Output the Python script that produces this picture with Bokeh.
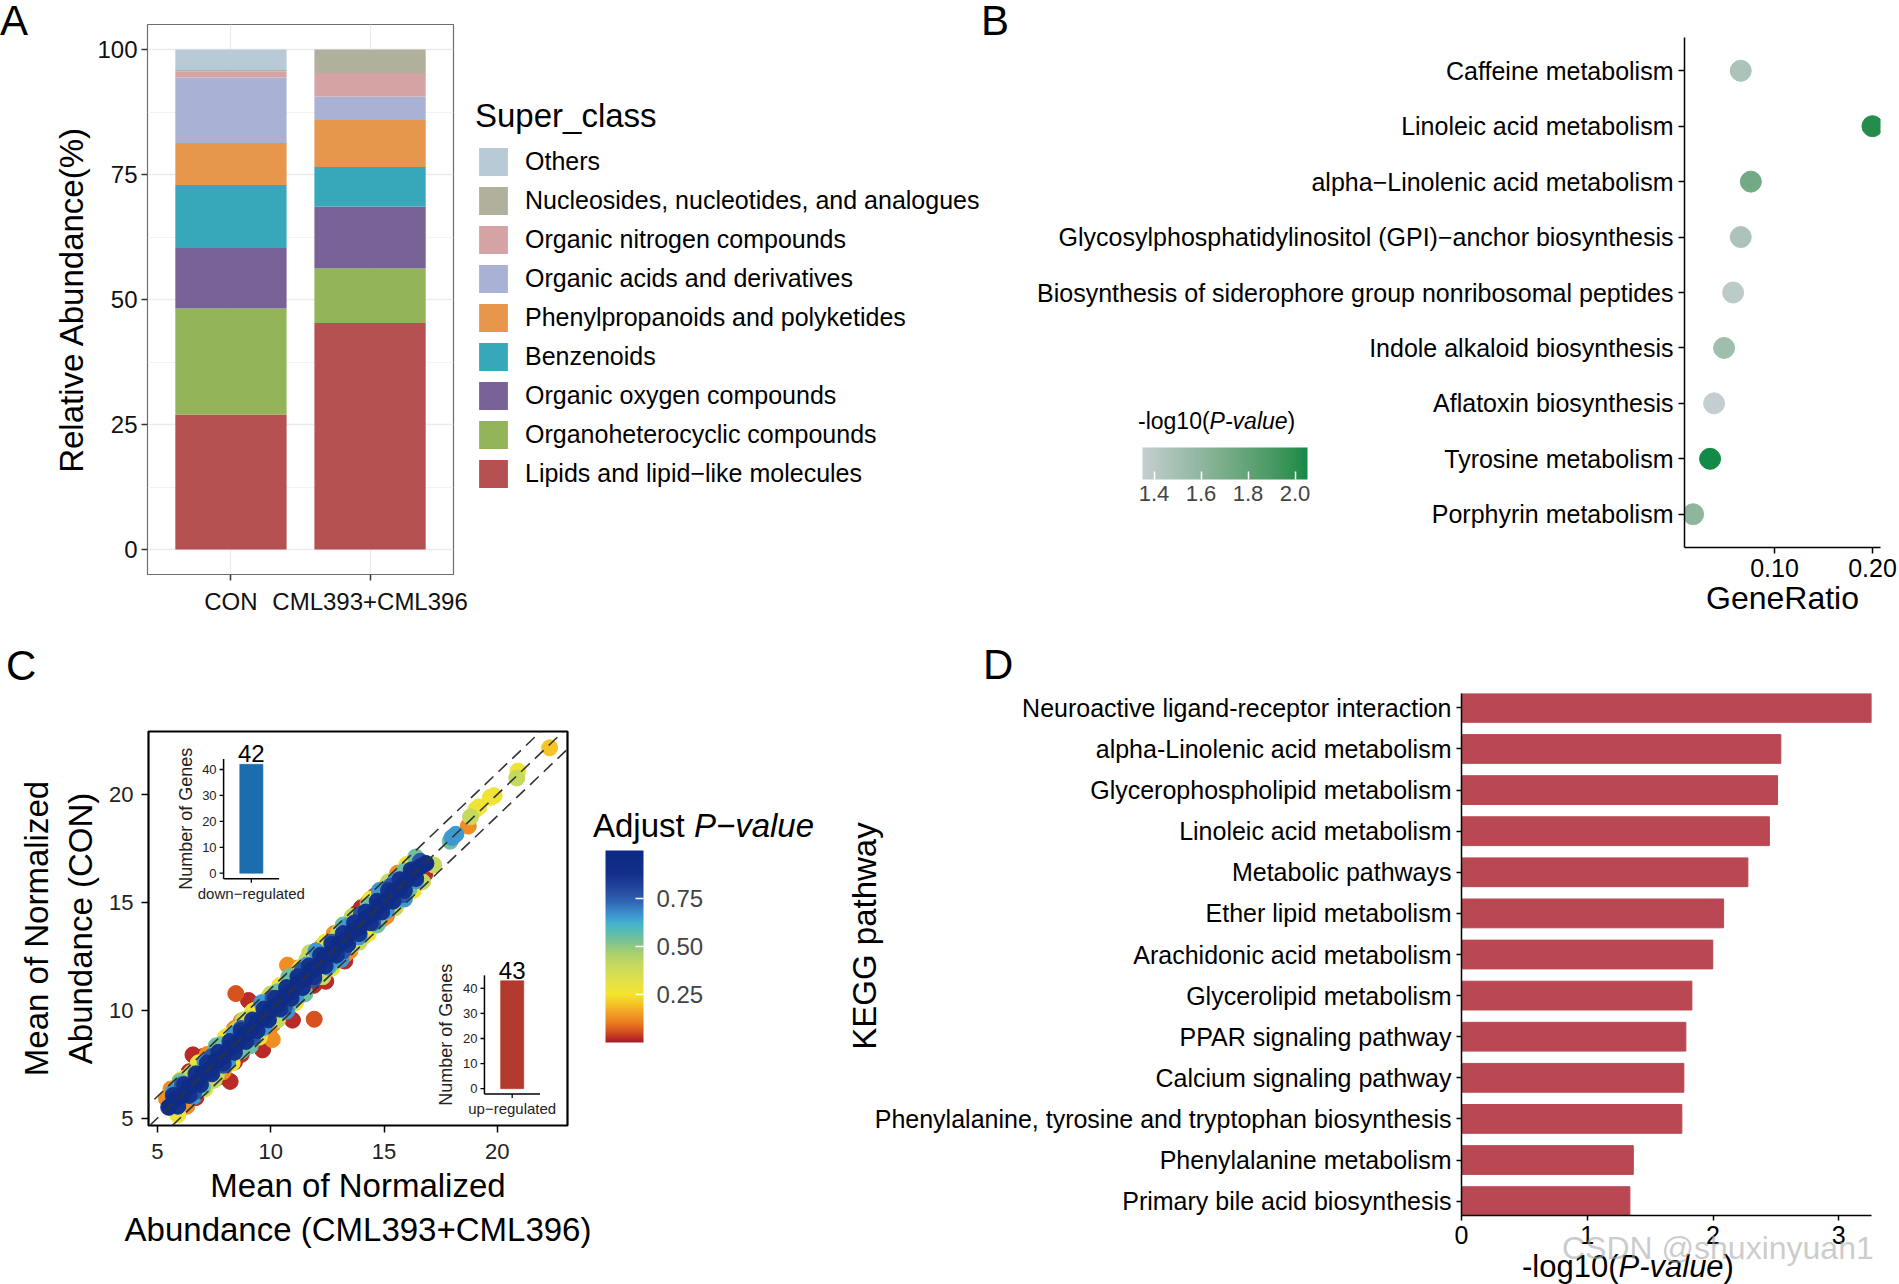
import numpy as np
from bokeh.plotting import figure
from bokeh.models import (ColumnDataSource, FactorRange, Range1d, Legend, LegendItem,
                          ColorBar, LinearColorMapper, FixedTicker, Slope, Div,
                          NumeralTickFormatter)
from bokeh.embed import file_html
from bokeh.resources import INLINE
from bokeh.core.properties import value

FONT = "Liberation Sans"

# ---------------- Panel A data ----------------
a_groups = ["CON", "CML393+CML396"]
a_classes = ["Lipids and lipid\u2212like molecules", "Organoheterocyclic compounds",
             "Organic oxygen compounds", "Benzenoids", "Phenylpropanoids and polyketides",
             "Organic acids and derivatives", "Organic nitrogen compounds",
             "Nucleosides, nucleotides, and analogues", "Others"]
a_con = [27.0, 21.2, 12.1, 12.6, 8.4, 13.1, 1.2, 0.3, 4.1]
a_cml = [45.3, 10.9, 12.4, 7.9, 9.4, 4.7, 4.7, 4.7, 0.0]
a_colors = ["#B65152", "#93B458", "#786296", "#37A8BA", "#E6974C",
            "#A9B2D4", "#D6A3A5", "#B0B09C", "#B8CAD5"]
a_yticks = [0, 25, 50, 75, 100]
a_yminor = [12.5, 37.5, 62.5, 87.5]

# ---------------- Panel B data ----------------
b_pathways = ["Caffeine metabolism", "Linoleic acid metabolism",
              "alpha\u2212Linolenic acid metabolism",
              "Glycosylphosphatidylinositol (GPI)\u2212anchor biosynthesis",
              "Biosynthesis of siderophore group nonribosomal peptides",
              "Indole alkaloid biosynthesis", "Aflatoxin biosynthesis",
              "Tyrosine metabolism", "Porphyrin metabolism"]
b_gene_ratio = [0.0656, 0.2000, 0.0759, 0.0656, 0.0578, 0.0486, 0.0384, 0.0343, 0.0170]
b_neglog10p = [1.47, 2.02, 1.73, 1.47, 1.39, 1.52, 1.351, 2.053, 1.61]
b_xticks = [0.10, 0.20]
b_cticks = [1.4, 1.6, 1.8, 2.0]

# ---------------- Panel C data ----------------
c_xticks = [5, 10, 15, 20]
c_guides = [-1, 0, 1]
c_cticks = [0.25, 0.50, 0.75]
inset_counts = [42, 43]
inset_names = ["down\u2212regulated", "up\u2212regulated"]
inset_colors = ["#1C6DAD", "#B43A2D"]
inset_yticks = [0, 10, 20, 30, 40]

c_red_x = [9.02, 10.96, 6.57, 8.21, 9.64, 12.43, 13.27, 6.4, 7.2, 7.7, 8.4, 13.8, 14.6, 16.3, 7.0, 9.9, 11.0, 15.1, 16.8,
           6.4, 14.0, 6.7, 8.7, 11.9]
c_red_y = [10.45, 9.54, 7.93, 6.7, 8.16, 11.34, 12.28, 7.0, 7.9, 6.9, 7.6, 14.5, 15.3, 16.8, 7.85, 9.0, 11.7, 14.4, 16.3,
           7.15, 14.75, 5.95, 7.95, 11.15]
c_vermil_x = [8.46, 11.92]
c_vermil_y = [10.77, 9.58]
c_orange_x = [6.9, 7.9, 8.7, 10.1, 10.74, 10.07, 12.2, 13.3, 14.3, 14.9, 18.72, 15.6, 5.4, 11.5,
              5.6, 7.2, 8.4, 11.2, 12.8, 15.6, 6.3, 7.9, 9.9, 13.5, 15.1]
c_orange_y = [7.6, 7.2, 9.5, 9.35, 12.09, 8.64, 12.9, 12.6, 15.0, 14.2, 18.53, 16.3, 5.9, 10.8,
              6.35, 7.95, 9.15, 11.95, 13.55, 16.35, 5.55, 7.15, 9.15, 12.75, 14.35]
c_amber_x = [22.31, 12.3]
c_amber_y = [22.16, 13.0]
c_yellow_x = [6.2, 7.3, 8.1, 9.5, 9.9, 10.8, 11.3, 12.8, 13.6, 14.1, 15.4, 16.1, 19.86, 19.69, 19.19, 19.05, 20.91, 9.3,
              6.0, 6.8, 8.0, 9.2, 10.4, 12.4, 14.4, 16.0, 5.9, 7.1, 8.3, 9.5, 11.1, 12.7, 14.3, 16.3]
c_yellow_y = [6.85, 6.7, 8.8, 8.9, 10.6, 10.15, 11.95, 12.15, 14.3, 13.4, 14.8, 16.75, 19.94, 19.86, 19.42, 19.3, 21.08, 10.0,
              6.75, 7.55, 8.75, 9.95, 11.15, 13.15, 15.15, 16.75, 5.15, 6.35, 7.55, 8.75, 10.35, 11.95, 13.55, 15.55]
c_ygreen_x = [6.5, 7.6, 8.5, 9.4, 11.72, 11.3, 13.0, 13.6, 15.0, 15.6, 16.4, 17.19, 18.82, 20.86, 9.0, 14.0,
              8.8, 10.0, 11.6, 13.6, 15.2, 7.5, 10.3, 12.3, 13.9, 15.5, 16.7]
c_ygreen_y = [7.1, 7.0, 9.1, 8.8, 12.66, 10.7, 13.6, 13.0, 15.65, 15.0, 17.0, 16.73, 18.96, 20.76, 9.6, 13.35,
              9.55, 10.75, 12.35, 14.35, 15.95, 6.75, 9.55, 11.55, 13.15, 14.75, 15.95]
c_green_x = [6.0, 7.0, 7.8, 8.7, 10.3, 10.9, 12.1, 12.6, 14.3, 14.7, 15.9, 16.1, 17.92,
             7.6, 10.8, 13.2, 16.4, 9.1, 11.5, 14.7]
c_green_y = [6.7, 6.4, 8.4, 8.1, 10.85, 10.35, 12.65, 12.05, 14.85, 14.1, 16.45, 15.6, 17.83,
             8.35, 11.55, 13.95, 17.1, 8.35, 10.75, 13.95]
c_lblue_x = [5.7, 6.6, 7.1, 8.1, 8.4, 9.7, 9.8, 11.1, 11.6, 12.5, 13.4, 13.9, 14.8, 15.1, 15.5, 16.4, 18.17, 18.0,
             9.6, 12.0, 14.8, 10.7, 13.1, 15.9]
c_lblue_y = [6.2, 6.0, 7.6, 7.6, 8.9, 9.2, 10.3, 10.6, 12.1, 12.0, 13.9, 13.4, 15.3, 14.6, 16.0, 16.0, 18.15, 18.0,
             10.35, 12.75, 15.55, 9.95, 12.35, 15.15]
c_blue_x = [6.1, 6.6, 7.4, 7.9, 8.7, 9.2, 10.1, 10.6, 11.4, 11.9, 12.7, 13.2, 14.0, 14.5, 15.3, 15.8, 16.6]
c_blue_y = [6.55, 6.2, 7.85, 7.45, 9.15, 8.75, 10.55, 10.15, 11.85, 11.45, 13.15, 12.75, 14.45, 14.05, 15.75, 15.35, 16.9]
c_navy_x = [5.7, 6.2, 6.7, 7.2, 7.7, 8.2, 8.7, 9.2, 9.7, 10.2, 10.7, 11.2, 11.7, 12.2, 12.7, 13.2, 13.7, 14.2, 14.7, 15.2, 15.7, 16.2,
            5.9, 6.4, 6.9, 7.4, 7.9, 8.4, 8.9, 9.4, 9.9, 10.4, 10.9, 11.4, 11.9, 12.4, 12.9, 13.4, 13.9, 14.4, 14.9, 15.4, 15.9, 16.4]
c_navy_y = [6.05, 6.55, 7.05, 7.55, 8.05, 8.55, 9.05, 9.55, 10.05, 10.55, 11.05, 11.55, 12.05, 12.55, 13.05, 13.55, 14.05, 14.55, 15.05, 15.55, 16.05, 16.5,
            5.55, 6.05, 6.55, 7.05, 7.55, 8.05, 8.55, 9.05, 9.55, 10.05, 10.55, 11.05, 11.55, 12.05, 12.55, 13.05, 13.55, 14.05, 14.55, 15.05, 15.55, 16.1]
c_core_x = [5.5, 5.8, 6.1, 6.4, 6.7, 7.0, 7.3, 7.6, 7.9, 8.2, 8.5, 8.8, 9.1, 9.4, 9.7, 10.0, 10.3, 10.6, 10.9, 11.2,
            11.5, 11.8, 12.1, 12.4, 12.7, 13.0, 13.3, 13.6, 13.9, 14.2, 14.5, 14.8, 15.1, 15.4, 15.7, 16.0, 16.3, 16.6, 16.85]
c_core_y = [5.5, 5.85, 6.05, 6.45, 6.65, 7.05, 7.25, 7.65, 7.85, 8.25, 8.45, 8.85, 9.05, 9.45, 9.65, 10.05, 10.25, 10.65, 10.85, 11.25,
            11.45, 11.85, 12.05, 12.45, 12.65, 13.05, 13.25, 13.65, 13.85, 14.25, 14.45, 14.85, 15.05, 15.45, 15.65, 16.05, 16.4, 16.65, 16.8]
c_group_padj = [0.02, 0.06, 0.13, 0.20, 0.27, 0.41, 0.55, 0.66, 0.77, 0.87, 0.93]

# ---------------- Panel D data ----------------
d_pathways = ["Neuroactive ligand-receptor interaction", "alpha-Linolenic acid metabolism",
              "Glycerophospholipid metabolism", "Linoleic acid metabolism", "Metabolic pathways",
              "Ether lipid metabolism", "Arachidonic acid metabolism", "Glycerolipid metabolism",
              "PPAR signaling pathway", "Calcium signaling pathway",
              "Phenylalanine, tyrosine and tryptophan biosynthesis", "Phenylalanine metabolism",
              "Primary bile acid biosynthesis"]
d_neglog10p = [3.263, 2.539, 2.513, 2.448, 2.277, 2.084, 1.998, 1.832, 1.784, 1.768, 1.752, 1.366, 1.339]
d_xticks = [0, 1, 2, 3]


# ---------------- helpers ----------------
def hex2rgb(h):
    return tuple(int(h[i:i + 2], 16) for i in (1, 3, 5))


def lerp_palette(stops, n=256):
    pos = np.array([s[0] for s in stops])
    rgb = np.array([hex2rgb(s[1]) for s in stops], float)
    t = np.linspace(pos[0], pos[-1], n)
    out = np.stack([np.interp(t, pos, rgb[:, k]) for k in range(3)], axis=1)
    return ["#%02x%02x%02x" % tuple(int(round(v)) for v in c) for c in out]


_M = np.array([[0.4124564, 0.3575761, 0.1804375],
               [0.2126729, 0.7151522, 0.0721750],
               [0.0193339, 0.1191920, 0.9503041]])
_MI = np.linalg.inv(_M)
_W = np.array([0.95047, 1.0, 1.08883])


def to_lab(h):
    rgb = np.array(hex2rgb(h)) / 255.0
    lin = np.where(rgb <= 0.04045, rgb / 12.92, ((rgb + 0.055) / 1.055) ** 2.4)
    xyz = _M @ lin / _W
    f = np.where(xyz > 0.008856, np.cbrt(xyz), 7.787 * xyz + 16 / 116)
    return np.array([116 * f[1] - 16, 500 * (f[0] - f[1]), 200 * (f[1] - f[2])])


def from_lab(lab):
    L, a, b = lab
    fy = (L + 16) / 116
    f = np.array([fy + a / 500, fy, fy - b / 200])
    xyz = np.where(f ** 3 > 0.008856, f ** 3, (f - 16 / 116) / 7.787) * _W
    lin = _MI @ xyz
    rgb = np.where(lin <= 0.0031308, 12.92 * lin, 1.055 * np.power(np.clip(lin, 0, None), 1 / 2.4) - 0.055)
    rgb = np.clip(rgb, 0, 1) * 255
    return "#%02x%02x%02x" % tuple(int(round(v)) for v in rgb)


def lab_palette(c0, c1, n=256):
    l0, l1 = to_lab(c0), to_lab(c1)
    return [from_lab(l0 + (l1 - l0) * t) for t in np.linspace(0, 1, n)]


def style_axis(ax, lab_size, title_size, tick_out=6, line_color="black", tick_color="black",
               lab_standoff=5, title_standoff=5, text_color="black", line_width=1.5):
    ax.axis_line_color = line_color
    ax.axis_line_width = line_width
    ax.major_tick_line_color = tick_color
    ax.major_tick_line_width = 1.5
    ax.major_tick_out = tick_out
    ax.major_tick_in = 0
    ax.minor_tick_line_color = None
    ax.major_label_text_font = FONT
    ax.major_label_text_font_size = f"{lab_size}px"
    ax.major_label_text_color = text_color
    ax.major_label_standoff = lab_standoff
    ax.axis_label_text_font = FONT
    ax.axis_label_text_font_size = f"{title_size}px"
    ax.axis_label_text_font_style = "normal"
    ax.axis_label_text_color = "black"
    ax.axis_label_standoff = title_standoff


def place(model, left, top):
    model.styles = {"position": "absolute", "left": f"{left}px", "top": f"{top}px"}
    return model


def text_div(html, left, cy, size, color="black", extra=None):
    st = {"position": "absolute", "left": f"{left}px", "top": f"{cy - 0.5 * size:.1f}px",
          "font-family": FONT, "font-size": f"{size}px", "line-height": "1",
          "white-space": "nowrap", "color": color, "margin": "0", "padding": "0"}
    if extra:
        st.update(extra)
    return Div(text=html, styles=st)


def base_fig(w, h, xr, yr, l, r, t, b):
    p = figure(width=w, height=h, x_range=xr, y_range=yr, output_backend="svg",
               toolbar_location=None, min_border_left=l, min_border_right=r,
               min_border_top=t, min_border_bottom=b)
    p.background_fill_color = "white"
    p.border_fill_color = "white"
    return p


roots = []

# ================= Panel A (page x 0, y 0) =================
pA = base_fig(980, 640,
              FactorRange(factors=a_groups, range_padding=0.1, range_padding_units="absolute"),
              Range1d(-5, 105), 147, 527, 24, 66)
srcA = {"group": a_groups}
for i, cls in enumerate(a_classes):
    srcA[cls] = [a_con[i], a_cml[i]]
rA = pA.vbar_stack(a_classes, x="group", width=0.8, fill_color=a_colors, line_color=None,
                   source=ColumnDataSource(srcA))
pA.outline_line_color = "#6E6E6E"
pA.outline_line_width = 1.2
ytA = FixedTicker(ticks=a_yticks, minor_ticks=a_yminor)
pA.yaxis.ticker = ytA
pA.ygrid.ticker = ytA
pA.ygrid.grid_line_color = "#EBEBEB"
pA.ygrid.grid_line_width = 1.3
pA.ygrid.minor_grid_line_color = "#F0F0F0"
pA.ygrid.minor_grid_line_width = 0.8
pA.xgrid.grid_line_color = "#EBEBEB"
pA.xgrid.grid_line_width = 1.3
style_axis(pA.yaxis[0], 24, 33, tick_out=6, line_color=None, tick_color="#333333",
           lab_standoff=4, title_standoff=4, text_color="#111111")
style_axis(pA.xaxis[0], 24, 24, tick_out=6, line_color=None, tick_color="#333333",
           lab_standoff=7, text_color="#111111")
pA.yaxis.axis_label = "Relative Abundance(%)"
roots.append(place(pA, 0, 0))

# legend of panel A: its own small canvas placed to the right of the bars
# (key renderers hold one bar each that lies outside this canvas' visible range)
pL = figure(width=520, height=410, x_range=Range1d(0, 1), y_range=Range1d(0, 1),
            x_axis_type=None, y_axis_type=None, output_backend="svg", toolbar_location=None,
            min_border=0, outline_line_color=None)
pL.xgrid.grid_line_color = None
pL.ygrid.grid_line_color = None
key_src = ColumnDataSource(dict(x=[5.0], top=[0.5]))
key_r = {}
for cls, col in zip(a_classes, a_colors):
    key_r[cls] = pL.vbar(x="x", top="top", width=0.5, source=key_src,
                         fill_color=col, line_color=None)
legA = Legend(items=[LegendItem(label=cls, renderers=[key_r[cls]]) for cls in reversed(a_classes)],
              location="top_left", title="Super_class",
              title_text_font=FONT, title_text_font_size="33px", title_text_font_style="normal",
              title_text_color="black", title_standoff=9, label_text_font=FONT,
              label_text_font_size="25px", label_text_color="black",
              glyph_width=36, glyph_height=35, spacing=4, label_standoff=14, padding=0,
              margin=0, background_fill_alpha=0, border_line_color=None)
pL.add_layout(legA)
roots.append(place(pL, 475, 97))

# ================= Panel B (page x 980, y 0) =================
pB = base_fig(919, 640, Range1d(0.0082, 0.2082),
              FactorRange(factors=list(reversed(b_pathways)), range_padding=0.1,
                          range_padding_units="absolute"),
              704, 19, 37, 93)
b_pal = lab_palette("#C4CED0", "#138A47")
b_mapper = LinearColorMapper(palette=b_pal, low=min(b_neglog10p), high=max(b_neglog10p))
srcB = ColumnDataSource(dict(path=b_pathways, ratio=b_gene_ratio, logp=b_neglog10p))
pB.scatter(x="ratio", y="path", size=21, source=srcB,
           fill_color={"field": "logp", "transform": b_mapper},
           line_color={"field": "logp", "transform": b_mapper})
pB.outline_line_color = None
pB.xgrid.grid_line_color = None
pB.ygrid.grid_line_color = None
pB.xaxis.ticker = FixedTicker(ticks=b_xticks)
pB.xaxis.formatter = NumeralTickFormatter(format="0.00")
pB.xaxis.axis_label = "GeneRatio"
style_axis(pB.xaxis[0], 25, 32, tick_out=6, lab_standoff=5, title_standoff=0)
style_axis(pB.yaxis[0], 25, 25, tick_out=6, lab_standoff=5)
cbB = ColorBar(color_mapper=b_mapper, orientation="horizontal", width=165, height=32,
               location=(-542, 44), padding=0, ticker=FixedTicker(ticks=b_cticks),
               formatter=NumeralTickFormatter(format="0.0"),
               major_label_text_font=FONT, major_label_text_font_size="22px",
               label_standoff=6, major_tick_line_color="white", major_tick_in=8,
               major_tick_out=0, major_tick_line_width=1.5, minor_tick_line_color=None,
               bar_line_color=None, background_fill_alpha=0, border_line_color=None)
pB.add_layout(cbB)
roots.append(place(pB, 980, 0))

# ================= Panel C (page x 0, y 640) =================
pC = base_fig(840, 644, Range1d(4.607, 23.098), Range1d(4.657, 22.915), 148, 273, 91, 159)
pC.outline_line_color = "black"
pC.outline_line_width = 2.2
pC.xgrid.grid_line_color = None
pC.ygrid.grid_line_color = None
c_pal = lerp_palette([(0.00, "#A9162B"), (0.05, "#D24B1F"), (0.10, "#EA7A21"), (0.15, "#F29E25"),
                      (0.20, "#F5C427"), (0.25, "#F4E42D"), (0.32, "#E2E24A"), (0.40, "#C8DA5C"),
                      (0.47, "#A6CE70"), (0.52, "#82C48D"), (0.57, "#5FBDAE"), (0.62, "#45B3CE"),
                      (0.67, "#3D92D0"), (0.73, "#3168B5"), (0.80, "#24489D"), (0.88, "#12308A"),
                      (1.00, "#0B2A84")])
c_mapper = LinearColorMapper(palette=c_pal, low=0.0, high=1.0)
groups_x = [c_red_x, c_vermil_x, c_orange_x, c_amber_x, c_yellow_x, c_ygreen_x, c_green_x,
            c_lblue_x, c_blue_x, c_navy_x, c_core_x]
groups_y = [c_red_y, c_vermil_y, c_orange_y, c_amber_y, c_yellow_y, c_ygreen_y, c_green_y,
            c_lblue_y, c_blue_y, c_navy_y, c_core_y]
cx, cy, cp = [], [], []
for gx, gy, gp in zip(groups_x, groups_y, c_group_padj):
    n = min(len(gx), len(gy))
    cx += gx[:n]
    cy += gy[:n]
    cp += [gp] * n
srcC = ColumnDataSource(dict(x=cx, y=cy, padj=cp))
pC.scatter(x="x", y="y", size=16, source=srcC,
           fill_color={"field": "padj", "transform": c_mapper},
           line_color={"field": "padj", "transform": c_mapper})
for b in c_guides:
    pC.add_layout(Slope(gradient=1, y_intercept=b, line_color="#333333", line_width=1.6,
                        line_dash="12 7"))
pC.xaxis.ticker = FixedTicker(ticks=c_xticks)
pC.yaxis.ticker = FixedTicker(ticks=c_xticks)
pC.xaxis.axis_label = "Mean of Normalized\nAbundance (CML393+CML396)"
pC.yaxis.axis_label = "Mean of Normalized\nAbundance (CON)"
style_axis(pC.xaxis[0], 22, 33, tick_out=7, line_color=None, lab_standoff=11, title_standoff=5,
           text_color="#222222")
style_axis(pC.yaxis[0], 22, 33, tick_out=7, line_color=None, lab_standoff=8, title_standoff=7,
           text_color="#222222")

# insets (small bar charts drawn on their own ranges inside panel C)
inset_ranges = [((-1.2238, 7.8357), (-97.32, 54.66)), ((-6.8638, 2.1957), (-14.66, 142.31))]
for k in range(2):
    xn, yn = f"in{k}x", f"in{k}y"
    (ix0, ix1), (iy0, iy1) = inset_ranges[k]
    pC.extra_x_ranges[xn] = Range1d(ix0, ix1)
    pC.extra_y_ranges[yn] = Range1d(iy0, iy1)
    ux = 419 / (ix1 - ix0)
    uy = 394 / (iy1 - iy0)
    cnt = inset_counts[k]
    lo, hi = -0.05 * cnt, 1.05 * cnt
    xl, xr = 0.4, 1.6
    kw = dict(x_range_name=xn, y_range_name=yn)
    src = ColumnDataSource(dict(x=[1], top=[cnt], lab=[str(cnt)], name=[inset_names[k]]))
    pC.vbar(x="x", top="top", bottom=0, width=0.5, source=src,
            fill_color=inset_colors[k], line_color=inset_colors[k], line_alpha=0.6, **kw)
    pC.text(x="x", y="top", text="lab", source=src, text_font=value(FONT),
            text_font_size="24px", text_align="center", text_baseline="bottom",
            y_offset=-2, text_color="black", **kw)
    pC.segment(x0=[xl, xl], y0=[lo, lo], x1=[xl, xr], y1=[hi, lo], line_color="black",
               line_width=1.5, **kw)
    tk = ColumnDataSource(dict(y=inset_yticks, lab=[str(t) for t in inset_yticks]))
    pC.segment(x0=xl, y0="y", x1=xl - 4 / ux, y1="y", source=tk, line_color="black",
               line_width=1.3, **kw)
    pC.text(x=xl, y="y", text="lab", source=tk, x_offset=-7, text_align="right",
            text_baseline="middle", text_font=value(FONT), text_font_size="13px",
            text_color="#222222", **kw)
    pC.segment(x0="x", y0=lo, x1="x", y1=lo - 4 / uy, source=src, line_color="black",
               line_width=1.3, **kw)
    pC.text(x="x", y=lo, text="name", source=src, y_offset=6, text_align="center",
            text_baseline="top", text_font=value(FONT), text_font_size="15px",
            text_color="#222222", **kw)
    pC.text(x=[xl], y=[(lo + hi) / 2], text=["Number of Genes"], x_offset=-38, angle=np.pi / 2,
            text_align="center", text_baseline="middle", text_font=value(FONT),
            text_font_size="18px", text_color="#222222", **kw)

cbC = ColorBar(color_mapper=c_mapper, orientation="vertical", width=38, height=192,
               location=(457, 83), padding=0, ticker=FixedTicker(ticks=c_cticks),
               formatter=NumeralTickFormatter(format="0.00"),
               major_label_text_font=FONT, major_label_text_font_size="24px",
               label_standoff=13, major_tick_line_color="white", major_tick_in=8,
               major_tick_out=0, major_tick_line_width=1.5, minor_tick_line_color=None,
               bar_line_color=None, background_fill_alpha=0, border_line_color=None)
pC.add_layout(cbC)
roots.append(place(pC, 0, 640))

# ================= Panel D (page x 840, y 640) =================
pD = base_fig(1059, 644, Range1d(0, 3.26),
              FactorRange(factors=list(reversed(d_pathways)), range_padding=-0.15,
                          range_padding_units="absolute"),
              621, 28, 53, 69)
srcD = ColumnDataSource(dict(path=d_pathways, val=d_neglog10p))
pD.hbar(y="path", right="val", left=0, height=0.7, source=srcD, fill_color="#B94853",
        line_color="#B94853")
pD.outline_line_color = None
pD.xgrid.grid_line_color = None
pD.ygrid.grid_line_color = None
pD.xaxis.ticker = FixedTicker(ticks=d_xticks)
style_axis(pD.xaxis[0], 25, 25, tick_out=5, lab_standoff=5)
style_axis(pD.yaxis[0], 25, 25, tick_out=5, lab_standoff=5)
roots.append(place(pD, 840, 640))

# ================= free texts (page coordinates) =================
roots.append(text_div("A", 0, 21, 42))
roots.append(text_div("B", 981, 21, 42))
roots.append(text_div("C", 6, 666, 42))
roots.append(text_div("D", 983, 665, 42))
roots.append(text_div("-log10(<i>P-value</i>)", 1138, 421, 23))
roots.append(text_div("Adjust <i>P\u2212value</i>", 593, 825, 33))
roots.append(text_div("-log10(<i>P-value</i>)", 1522, 1266, 31))
roots.append(text_div("KEGG pathway", 864, 936, 33,
                      extra={"top": "936px", "transform": "translate(-50%, -50%) rotate(-90deg)"}))
roots.append(text_div("CSDN @shuxinyuan1", 1562, 1248, 32, color="rgba(170,170,170,0.6)"))

open("out.html", "w").write(file_html(roots, INLINE))
